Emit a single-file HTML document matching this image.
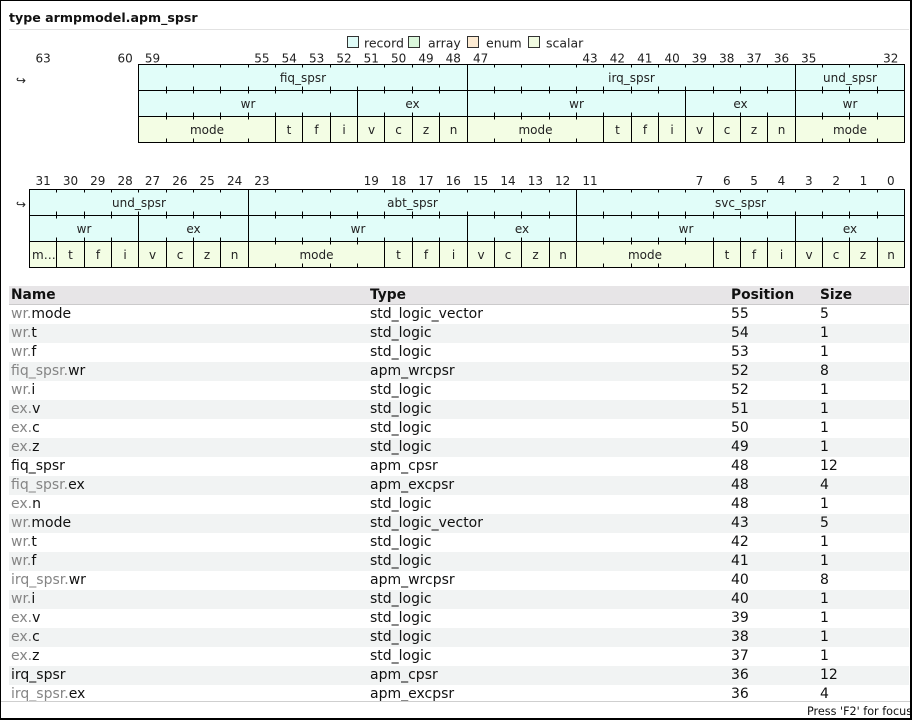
<!DOCTYPE html>
<html><head><meta charset="utf-8"><style>
html,body{margin:0;padding:0;}
body{width:912px;height:720px;position:relative;overflow:hidden;background:#fff;font-family:"DejaVu Sans","Liberation Sans",sans-serif;color:#222;}
svg{position:absolute;left:0;top:0;}
#tbl{position:absolute;left:9px;top:286px;width:900px;height:415px;overflow:hidden;}
.hd{position:relative;height:18px;background:#e7e5e7;border-bottom:1px solid #cbcacb;font-weight:bold;font-size:13.8px;line-height:18px;color:#111;}
.r{position:relative;height:19px;font-size:14px;line-height:19px;color:#111;}
.r:nth-child(even){background:#f1f3f3;}
.c{position:absolute;top:0;white-space:nowrap;}
.c1{left:2px}.c2{left:361px}.c3{left:722px}.c4{left:811px}
.g{color:#858585}
#sline{position:absolute;left:0;top:701px;width:912px;height:1px;background:#cfcfcf;}
#status{position:absolute;left:0;top:703px;width:910px;height:16px;overflow:hidden;}
#status span{position:absolute;left:807px;top:0;font-size:11.2px;line-height:18px;white-space:nowrap;color:#111;}
#frame{position:absolute;left:0;top:0;width:912px;height:720px;box-sizing:border-box;border-left:1px solid #000;border-top:1px solid #000;border-right:2px solid #000;border-bottom:2px solid #000;pointer-events:none;}
</style></head><body>
<svg width="912" height="285" viewBox="0 0 912 285" font-family="DejaVu Sans, Liberation Sans, sans-serif">
<text x="9" y="22" font-weight="bold" font-size="12.6" fill="#111">type armpmodel.apm_spsr</text>
<line x1="9" y1="29.5" x2="909" y2="29.5" stroke="#e2e2e2" stroke-width="1"/>
<g stroke="#333" stroke-width="1">
<rect x="347.5" y="36.5" width="11" height="11" fill="#dffcf8"/>
<rect x="408.5" y="36.5" width="11" height="11" fill="#dbf7dc"/>
<rect x="467.5" y="36.5" width="11" height="11" fill="#fdebd3"/>
<rect x="528.5" y="36.5" width="11" height="11" fill="#f1fbe1"/>
</g>
<g font-size="12.5" fill="#222">
<text x="364" y="47.5">record</text>
<text x="428" y="47.5">array</text>
<text x="486" y="47.5">enum</text>
<text x="546" y="47.5">scalar</text>
</g>
<text x="16" y="84.5" font-size="12" fill="#222">↪</text>
<text x="16" y="208.5" font-size="12" fill="#222">↪</text>
<g font-size="12" fill="#222" text-anchor="middle">
<text x="43.2" y="62.5">63</text><text x="125.2" y="62.5">60</text><text x="152.5" y="62.5">59</text>
<text x="261.9" y="62.5">55</text><text x="289.3" y="62.5">54</text><text x="316.6" y="62.5">53</text>
<text x="344" y="62.5">52</text><text x="371.3" y="62.5">51</text><text x="398.6" y="62.5">50</text>
<text x="426" y="62.5">49</text><text x="453.3" y="62.5">48</text><text x="480.7" y="62.5">47</text>
<text x="590" y="62.5">43</text><text x="617.4" y="62.5">42</text><text x="644.8" y="62.5">41</text>
<text x="672.1" y="62.5">40</text><text x="699.4" y="62.5">39</text><text x="726.8" y="62.5">38</text>
<text x="754.1" y="62.5">37</text><text x="781.5" y="62.5">36</text><text x="808.8" y="62.5">35</text>
<text x="890.8" y="62.5">32</text>
</g>
<g font-size="12" fill="#222" text-anchor="middle">
<text x="43.2" y="185">31</text><text x="70.5" y="185">30</text><text x="97.8" y="185">29</text>
<text x="125.2" y="185">28</text><text x="152.5" y="185">27</text><text x="179.9" y="185">26</text>
<text x="207.2" y="185">25</text><text x="234.6" y="185">24</text><text x="261.9" y="185">23</text>
<text x="371.3" y="185">19</text><text x="398.6" y="185">18</text><text x="426" y="185">17</text>
<text x="453.3" y="185">16</text><text x="480.7" y="185">15</text><text x="508" y="185">14</text>
<text x="535.4" y="185">13</text><text x="562.7" y="185">12</text><text x="590" y="185">11</text>
<text x="699.4" y="185">7</text><text x="726.8" y="185">6</text><text x="754.1" y="185">5</text>
<text x="781.5" y="185">4</text><text x="808.8" y="185">3</text><text x="836.2" y="185">2</text>
<text x="863.5" y="185">1</text><text x="890.8" y="185">0</text>
</g>
<rect x="138.5" y="64.5" width="766" height="52" fill="#e1fdf9"/>
<rect x="138.5" y="116.5" width="766" height="26" fill="#f3fde4"/>
<rect x="29.5" y="189.5" width="875" height="52" fill="#e1fdf9"/>
<rect x="29.5" y="241.5" width="875" height="26" fill="#f3fde4"/>
<g stroke="#000" stroke-width="1" fill="none">
<rect x="138.5" y="64.5" width="766" height="78"/>
<path d="M138.5 90.5H904.5M138.5 116.5H904.5M467.5 64.5V142.5M795.5 64.5V142.5M357.5 90.5V142.5M685.5 90.5V142.5M275.5 116.5V142.5M302.5 116.5V142.5M330.5 116.5V142.5M384.5 116.5V142.5M412.5 116.5V142.5M439.5 116.5V142.5M603.5 116.5V142.5M631.5 116.5V142.5M658.5 116.5V142.5M713.5 116.5V142.5M740.5 116.5V142.5M767.5 116.5V142.5"/>
<path d="M166.5 64.5v3m0 19v4M193.5 64.5v3m0 19v4M220.5 64.5v3m0 19v4M248.5 64.5v3m0 19v4M275.5 64.5v3m0 19v4M302.5 64.5v3m0 19v4M330.5 64.5v3m0 19v4M357.5 64.5v3m0 19v4M384.5 64.5v3m0 19v4M412.5 64.5v3m0 19v4M439.5 64.5v3m0 19v4M494.5 64.5v3m0 19v4M521.5 64.5v3m0 19v4M549.5 64.5v3m0 19v4M576.5 64.5v3m0 19v4M603.5 64.5v3m0 19v4M631.5 64.5v3m0 19v4M658.5 64.5v3m0 19v4M685.5 64.5v3m0 19v4M713.5 64.5v3m0 19v4M740.5 64.5v3m0 19v4M767.5 64.5v3m0 19v4M822.5 64.5v3m0 19v4M849.5 64.5v3m0 19v4M877.5 64.5v3m0 19v4"/>
<path d="M166.5 90.5v3m0 19v4M193.5 90.5v3m0 19v4M220.5 90.5v3m0 19v4M248.5 90.5v3m0 19v4M275.5 90.5v3m0 19v4M302.5 90.5v3m0 19v4M330.5 90.5v3m0 19v4M384.5 90.5v3m0 19v4M412.5 90.5v3m0 19v4M439.5 90.5v3m0 19v4M494.5 90.5v3m0 19v4M521.5 90.5v3m0 19v4M549.5 90.5v3m0 19v4M576.5 90.5v3m0 19v4M603.5 90.5v3m0 19v4M631.5 90.5v3m0 19v4M658.5 90.5v3m0 19v4M713.5 90.5v3m0 19v4M740.5 90.5v3m0 19v4M767.5 90.5v3m0 19v4M822.5 90.5v3m0 19v4M849.5 90.5v3m0 19v4M877.5 90.5v3m0 19v4"/>
<path d="M166.5 116.5v3m0 19v4M193.5 116.5v3m0 19v4M220.5 116.5v3m0 19v4M248.5 116.5v3m0 19v4M494.5 116.5v3m0 19v4M521.5 116.5v3m0 19v4M549.5 116.5v3m0 19v4M576.5 116.5v3m0 19v4M822.5 116.5v3m0 19v4M849.5 116.5v3m0 19v4M877.5 116.5v3m0 19v4"/>
<rect x="29.5" y="189.5" width="875" height="78"/>
<path d="M29.5 215.5H904.5M29.5 241.5H904.5M248.5 189.5V267.5M576.5 189.5V267.5M138.5 215.5V267.5M467.5 215.5V267.5M795.5 215.5V267.5M56.5 241.5V267.5M84.5 241.5V267.5M111.5 241.5V267.5M166.5 241.5V267.5M193.5 241.5V267.5M220.5 241.5V267.5M384.5 241.5V267.5M412.5 241.5V267.5M439.5 241.5V267.5M494.5 241.5V267.5M521.5 241.5V267.5M549.5 241.5V267.5M713.5 241.5V267.5M740.5 241.5V267.5M767.5 241.5V267.5M822.5 241.5V267.5M849.5 241.5V267.5M877.5 241.5V267.5"/>
<path d="M56.5 189.5v3m0 19v4M84.5 189.5v3m0 19v4M111.5 189.5v3m0 19v4M138.5 189.5v3m0 19v4M166.5 189.5v3m0 19v4M193.5 189.5v3m0 19v4M220.5 189.5v3m0 19v4M275.5 189.5v3m0 19v4M302.5 189.5v3m0 19v4M330.5 189.5v3m0 19v4M357.5 189.5v3m0 19v4M384.5 189.5v3m0 19v4M412.5 189.5v3m0 19v4M439.5 189.5v3m0 19v4M467.5 189.5v3m0 19v4M494.5 189.5v3m0 19v4M521.5 189.5v3m0 19v4M549.5 189.5v3m0 19v4M603.5 189.5v3m0 19v4M631.5 189.5v3m0 19v4M658.5 189.5v3m0 19v4M685.5 189.5v3m0 19v4M713.5 189.5v3m0 19v4M740.5 189.5v3m0 19v4M767.5 189.5v3m0 19v4M795.5 189.5v3m0 19v4M822.5 189.5v3m0 19v4M849.5 189.5v3m0 19v4M877.5 189.5v3m0 19v4"/>
<path d="M56.5 215.5v3m0 19v4M84.5 215.5v3m0 19v4M111.5 215.5v3m0 19v4M166.5 215.5v3m0 19v4M193.5 215.5v3m0 19v4M220.5 215.5v3m0 19v4M275.5 215.5v3m0 19v4M302.5 215.5v3m0 19v4M330.5 215.5v3m0 19v4M357.5 215.5v3m0 19v4M384.5 215.5v3m0 19v4M412.5 215.5v3m0 19v4M439.5 215.5v3m0 19v4M494.5 215.5v3m0 19v4M521.5 215.5v3m0 19v4M549.5 215.5v3m0 19v4M603.5 215.5v3m0 19v4M631.5 215.5v3m0 19v4M658.5 215.5v3m0 19v4M685.5 215.5v3m0 19v4M713.5 215.5v3m0 19v4M740.5 215.5v3m0 19v4M767.5 215.5v3m0 19v4M822.5 215.5v3m0 19v4M849.5 215.5v3m0 19v4M877.5 215.5v3m0 19v4"/>
<path d="M275.5 241.5v3m0 19v4M302.5 241.5v3m0 19v4M330.5 241.5v3m0 19v4M357.5 241.5v3m0 19v4M603.5 241.5v3m0 19v4M631.5 241.5v3m0 19v4M658.5 241.5v3m0 19v4M685.5 241.5v3m0 19v4"/>
</g>
<g font-size="12" fill="#222" text-anchor="middle">
<text x="303" y="82">fiq_spsr</text><text x="631.5" y="82">irq_spsr</text><text x="850" y="82">und_spsr</text>
<text x="248" y="108">wr</text><text x="412.5" y="108">ex</text><text x="576.5" y="108">wr</text><text x="740.5" y="108">ex</text><text x="850" y="108">wr</text>
<text x="207" y="134">mode</text><text x="289" y="134">t</text><text x="316.5" y="134">f</text><text x="344" y="134">i</text>
<text x="371.5" y="134">v</text><text x="398.5" y="134">c</text><text x="426" y="134">z</text><text x="453.5" y="134">n</text>
<text x="535.5" y="134">mode</text><text x="617.5" y="134">t</text><text x="645" y="134">f</text><text x="672" y="134">i</text>
<text x="699.5" y="134">v</text><text x="727" y="134">c</text><text x="754" y="134">z</text><text x="781.5" y="134">n</text>
<text x="850" y="134">mode</text>
</g>
<g font-size="12" fill="#222" text-anchor="middle">
<text x="139" y="207">und_spsr</text><text x="412.5" y="207">abt_spsr</text><text x="740.5" y="207">svc_spsr</text>
<text x="84" y="233">wr</text><text x="193.5" y="233">ex</text><text x="358" y="233">wr</text><text x="522" y="233">ex</text><text x="686" y="233">wr</text><text x="850" y="233">ex</text>
<text x="70.5" y="259">t</text><text x="98" y="259">f</text><text x="125" y="259">i</text>
<text x="152.5" y="259">v</text><text x="180" y="259">c</text><text x="207" y="259">z</text><text x="234.5" y="259">n</text>
<text x="316.5" y="259">mode</text><text x="398.5" y="259">t</text><text x="426" y="259">f</text><text x="453.5" y="259">i</text>
<text x="481" y="259">v</text><text x="508" y="259">c</text><text x="535.5" y="259">z</text><text x="563" y="259">n</text>
<text x="645" y="259">mode</text><text x="727" y="259">t</text><text x="754" y="259">f</text><text x="781.5" y="259">i</text>
<text x="809" y="259">v</text><text x="836" y="259">c</text><text x="863" y="259">z</text><text x="891" y="259">n</text>
</g>
<text x="32" y="259" font-size="12" fill="#222">m…</text>
</svg>

<div id="tbl">
<div class="hd"><span class="c c1">Name</span><span class="c c2">Type</span><span class="c c3">Position</span><span class="c c4">Size</span></div>
<div>
<div class="r"><span class="c c1"><span class="g">wr.</span>mode</span><span class="c c2">std_logic_vector</span><span class="c c3">55</span><span class="c c4">5</span></div>
<div class="r"><span class="c c1"><span class="g">wr.</span>t</span><span class="c c2">std_logic</span><span class="c c3">54</span><span class="c c4">1</span></div>
<div class="r"><span class="c c1"><span class="g">wr.</span>f</span><span class="c c2">std_logic</span><span class="c c3">53</span><span class="c c4">1</span></div>
<div class="r"><span class="c c1"><span class="g">fiq_spsr.</span>wr</span><span class="c c2">apm_wrcpsr</span><span class="c c3">52</span><span class="c c4">8</span></div>
<div class="r"><span class="c c1"><span class="g">wr.</span>i</span><span class="c c2">std_logic</span><span class="c c3">52</span><span class="c c4">1</span></div>
<div class="r"><span class="c c1"><span class="g">ex.</span>v</span><span class="c c2">std_logic</span><span class="c c3">51</span><span class="c c4">1</span></div>
<div class="r"><span class="c c1"><span class="g">ex.</span>c</span><span class="c c2">std_logic</span><span class="c c3">50</span><span class="c c4">1</span></div>
<div class="r"><span class="c c1"><span class="g">ex.</span>z</span><span class="c c2">std_logic</span><span class="c c3">49</span><span class="c c4">1</span></div>
<div class="r"><span class="c c1">fiq_spsr</span><span class="c c2">apm_cpsr</span><span class="c c3">48</span><span class="c c4">12</span></div>
<div class="r"><span class="c c1"><span class="g">fiq_spsr.</span>ex</span><span class="c c2">apm_excpsr</span><span class="c c3">48</span><span class="c c4">4</span></div>
<div class="r"><span class="c c1"><span class="g">ex.</span>n</span><span class="c c2">std_logic</span><span class="c c3">48</span><span class="c c4">1</span></div>
<div class="r"><span class="c c1"><span class="g">wr.</span>mode</span><span class="c c2">std_logic_vector</span><span class="c c3">43</span><span class="c c4">5</span></div>
<div class="r"><span class="c c1"><span class="g">wr.</span>t</span><span class="c c2">std_logic</span><span class="c c3">42</span><span class="c c4">1</span></div>
<div class="r"><span class="c c1"><span class="g">wr.</span>f</span><span class="c c2">std_logic</span><span class="c c3">41</span><span class="c c4">1</span></div>
<div class="r"><span class="c c1"><span class="g">irq_spsr.</span>wr</span><span class="c c2">apm_wrcpsr</span><span class="c c3">40</span><span class="c c4">8</span></div>
<div class="r"><span class="c c1"><span class="g">wr.</span>i</span><span class="c c2">std_logic</span><span class="c c3">40</span><span class="c c4">1</span></div>
<div class="r"><span class="c c1"><span class="g">ex.</span>v</span><span class="c c2">std_logic</span><span class="c c3">39</span><span class="c c4">1</span></div>
<div class="r"><span class="c c1"><span class="g">ex.</span>c</span><span class="c c2">std_logic</span><span class="c c3">38</span><span class="c c4">1</span></div>
<div class="r"><span class="c c1"><span class="g">ex.</span>z</span><span class="c c2">std_logic</span><span class="c c3">37</span><span class="c c4">1</span></div>
<div class="r"><span class="c c1">irq_spsr</span><span class="c c2">apm_cpsr</span><span class="c c3">36</span><span class="c c4">12</span></div>
<div class="r"><span class="c c1"><span class="g">irq_spsr.</span>ex</span><span class="c c2">apm_excpsr</span><span class="c c3">36</span><span class="c c4">4</span></div>
</div>
</div>
<div id="sline"></div>
<div id="status"><span>Press 'F2' for focus</span></div>
<div id="frame"></div>
</body></html>
